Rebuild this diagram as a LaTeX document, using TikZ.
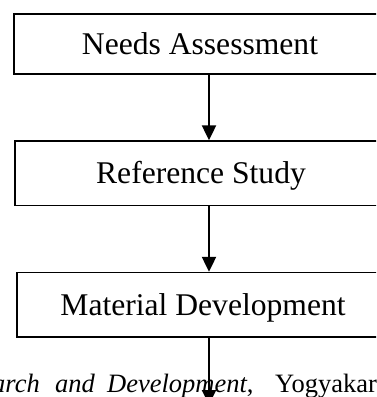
\documentclass[tikz,border=0pt]{standalone}
\usepackage{fontspec}
\setmainfont{Liberation Serif}
\usetikzlibrary{arrows.meta}
\begin{document}
\begin{tikzpicture}[x=1pt,y=-1pt,
  stagebox/.style={draw=black, line width=1.4pt, minimum width=372pt,
    inner sep=0pt, font=\fontsize{31.6}{38}\selectfont,
    text height=20.9pt, text depth=0pt},
  flowarrow/.style={draw=black, line width=2.2pt, -{Triangle[width=14pt,length=15pt]}},
  bodytext/.style={inner sep=0pt, anchor=base west, font=\fontsize{26.5}{32}\selectfont}]
\useasboundingbox (0,0) rectangle (376,397);
\clip (0,0) rectangle (376,397);
\node[stagebox, minimum height=60pt] (b1) at (200,44) {Needs Assessment};
\node[stagebox, minimum height=64.5pt] (b2) at (201,173.25) {Reference Study};
\node[stagebox, minimum height=64.5pt] (b3) at (203,304.75) {Material Development};
\node[bodytext, anchor=base east] (w1) at (40,392) {\textit{Research}};
\node[bodytext] (w2) at (55,392) {\textit{and}};
\node[bodytext] (w3) at (107,392) {\textit{Development},};
\node[bodytext] (w4) at (275,392) {Yogyakarta};
\coordinate (ax) at (209,0);
\coordinate (endpt) at (209,405);
\draw[flowarrow] (b1.south -| ax) -- (b2.north -| ax);
\draw[flowarrow] (b2.south -| ax) -- (b3.north -| ax);
\draw[flowarrow] (b3.south -| ax) -- (endpt);
\end{tikzpicture}
\end{document}
